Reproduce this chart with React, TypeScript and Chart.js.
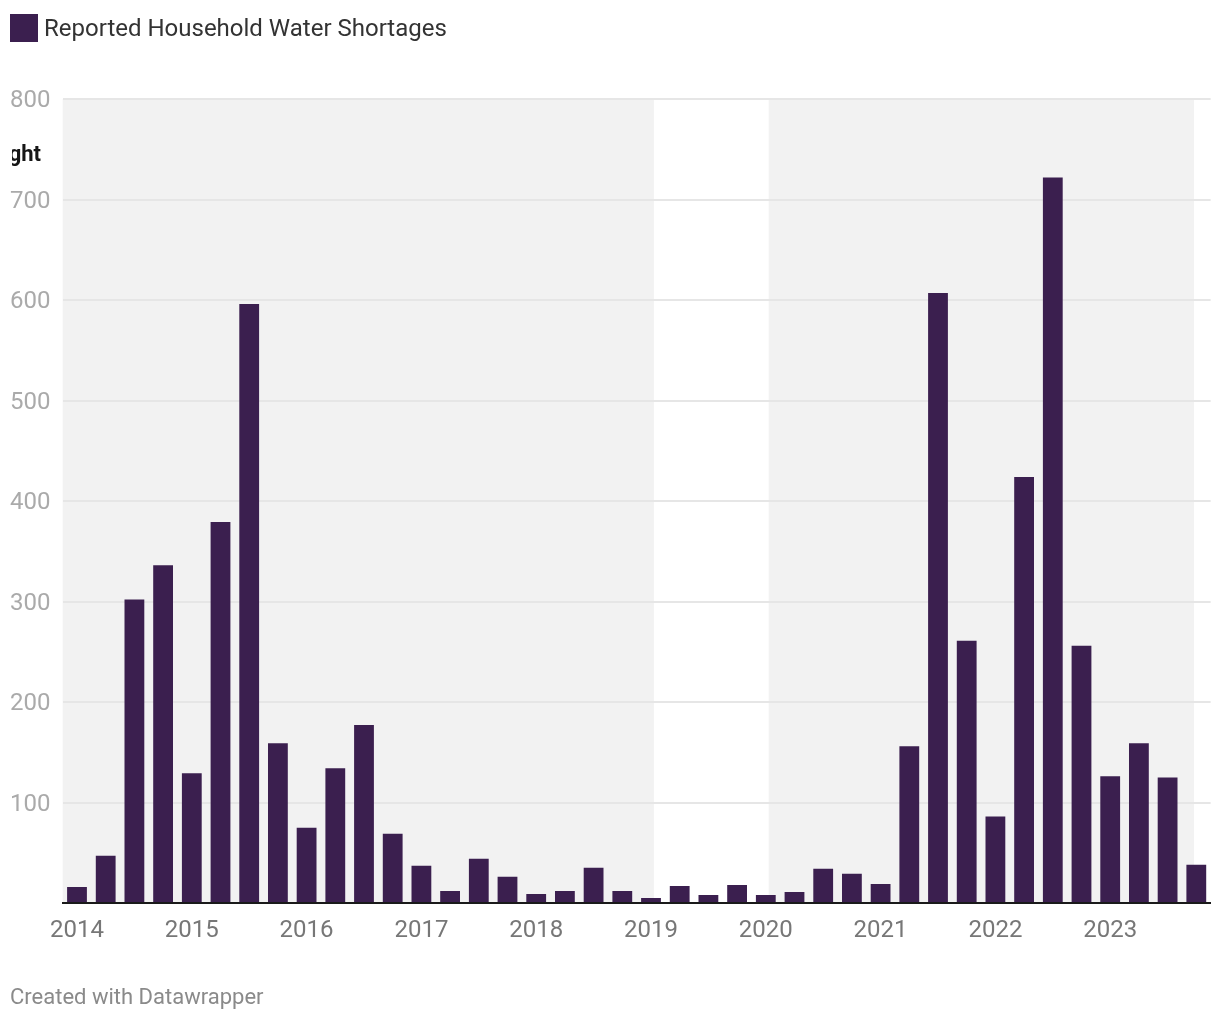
import React, { useEffect, useRef } from "react";
import { Chart, registerables } from "chart.js";

Chart.register(...registerables);

// ---- data ----
const years = ["2014", "2015", "2016", "2017", "2018", "2019", "2020", "2021", "2022", "2023"];
const quarterNames = ["Q1", "Q2", "Q3", "Q4"];
const categories: string[] = years.flatMap((y) => quarterNames.map((q) => `${y} ${q}`));

const shortages = [
  16, 47, 302, 336, 129, 379, 596, 159, 75, 134,
  177, 69, 37, 12, 44, 26, 9, 12, 35, 12,
  5, 17, 8, 18, 8, 11, 34, 29, 19, 156,
  607, 261, 86, 424, 722, 256, 126, 159, 125, 38,
];

const yTickValues = [100, 200, 300, 400, 500, 600, 700, 800];

// drought periods, in quarter-index units along the category axis
const droughtStart = [-0.5, 24.1];
const droughtEnd = [20.1, 38.92];
const droughtLabel = "Drought";

const seriesName = "Reported Household Water Shortages";
const barColor = "#3b1f4f";

const FONT = "Roboto, 'Noto Sans', Arial, sans-serif";

const bandsPlugin = {
  id: "droughtBands",
  beforeDraw(chart: any) {
    const { ctx, chartArea } = chart;
    const x = chart.scales.x;
    ctx.save();
    ctx.fillStyle = "#f2f2f2";
    for (let i = 0; i < droughtStart.length; i++) {
      const x0 = x.getPixelForValue(droughtStart[i]);
      const x1 = x.getPixelForValue(droughtEnd[i]);
      ctx.fillRect(x0, chartArea.top, x1 - x0, chartArea.bottom - chartArea.top);
    }
    ctx.restore();
  },
  afterDraw(chart: any) {
    const { ctx, chartArea } = chart;
    ctx.save();
    ctx.beginPath();
    ctx.rect(12, 0, chart.width - 12, chart.height);
    ctx.clip();
    ctx.font = `bold 22px ${FONT}`;
    ctx.textAlign = "right";
    ctx.textBaseline = "alphabetic";
    ctx.fillStyle = "#161616";
    ctx.fillText(droughtLabel, 41, chartArea.top + 62);
    ctx.restore();
  },
};

export default function App() {
  const canvasRef = useRef<HTMLCanvasElement | null>(null);

  useEffect(() => {
    document.body.style.margin = "0";
    const canvas = canvasRef.current;
    if (!canvas) return;
    Chart.defaults.font.family = FONT;
    const chart = new Chart(canvas, {
      type: "bar",
      data: {
        labels: categories,
        datasets: [
          {
            label: seriesName,
            data: shortages,
            backgroundColor: barColor,
            borderWidth: 0,
            barPercentage: 0.69,
            categoryPercentage: 1.0,
          },
        ],
      },
      options: {
        responsive: false,
        animation: false,
        devicePixelRatio: 1,
        layout: { padding: { left: 10, right: 9.35, top: 99, bottom: 77 } },
        plugins: {
          legend: { display: false },
          tooltip: { enabled: false },
          title: { display: false },
        },
        scales: {
          x: {
            type: "category",
            offset: true,
            grid: { display: false, drawTicks: false },
            border: { display: true, color: "#1a1a1a", width: 2 },
            ticks: {
              autoSkip: false,
              maxRotation: 0,
              minRotation: 0,
              padding: 14,
              color: "#777777",
              font: { family: FONT, size: 24 },
              callback: (_v: any, i: number) => (i % 4 === 0 ? years[i / 4] : ""),
            },
            afterFit: (s: any) => {
              s.height = 40;
            },
          },
          y: {
            min: 0,
            max: 800,
            afterBuildTicks: (s: any) => {
              s.ticks = [0, ...yTickValues].map((v) => ({ value: v }));
            },
            ticks: {
              crossAlign: "far",
              padding: 0,
              labelOffset: 2,
              color: "#aaaaaa",
              font: { family: FONT, size: 24 },
              callback: (v: any) => (v === 0 ? "" : String(v)),
            },
            grid: { color: "#e6e6e6", lineWidth: 2, drawTicks: false },
            border: { display: false },
            afterFit: (s: any) => {
              s.width = 52.65;
            },
          },
        },
      },
      plugins: [bandsPlugin],
    } as any);
    return () => chart.destroy();
  }, []);

  return (
    <div style={{ position: "relative", width: 1220, height: 1020, background: "#fff", fontFamily: FONT }}>
      <canvas
        ref={canvasRef}
        width={1220}
        height={1020}
        style={{ position: "absolute", left: 0, top: 0, width: 1220, height: 1020 }}
      />
      <div
        style={{
          position: "absolute",
          left: 10,
          top: 14,
          height: 28,
          display: "flex",
          alignItems: "center",
          whiteSpace: "nowrap",
        }}
      >
        <span style={{ display: "inline-block", width: 28, height: 28, background: barColor }} />
        <span style={{ marginLeft: 6, fontSize: 24, color: "#333333", lineHeight: "28px" }}>{seriesName}</span>
      </div>
      <div
        style={{
          position: "absolute",
          left: 10,
          top: 983,
          fontSize: 22,
          lineHeight: "28px",
          color: "#8a8a8a",
          whiteSpace: "nowrap",
        }}
      >
        Created with Datawrapper
      </div>
    </div>
  );
}
